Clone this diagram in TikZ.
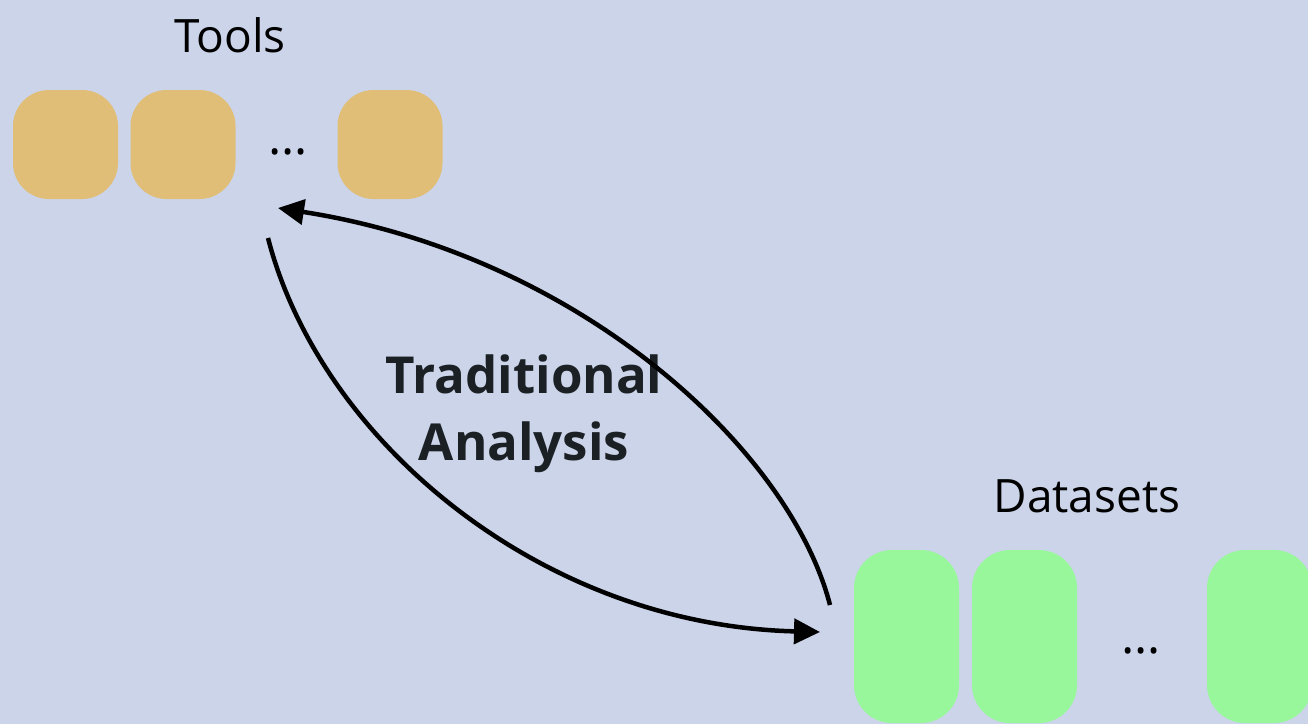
\documentclass[tikz,border=0pt]{standalone}
\usepackage{fontspec}
\setmainfont{Open Sans}
\usetikzlibrary{arrows.meta}
\definecolor{bgc}{HTML}{CBD4E9}
\definecolor{toolc}{HTML}{E1BE78}
\definecolor{datac}{HTML}{98F79B}
\definecolor{txtc}{HTML}{1A2024}
\tikzset{
  x=1pt, y=-1pt,
  toolbox/.style={fill=toolc, rounded corners=36pt, minimum width=105pt, minimum height=109pt, inner sep=0pt},
  databox/.style={fill=datac, rounded corners=38pt, minimum width=105pt, minimum height=173pt, inner sep=0pt},
  title/.style={font=\fontsize{46}{55}\selectfont, text=black, inner sep=0pt},
  dots/.style={font=\fontsize{50}{55}\selectfont, text=black, inner sep=0pt, anchor=base},
  flow/.style={line width=4.5pt, -{Triangle[length=26pt,width=25pt]}},
}
\begin{document}
\begin{tikzpicture}
\useasboundingbox (0,0) rectangle (1308,724);
\fill[bgc] (0,0) rectangle (1308,724);
% Tools
\node[title, anchor=base] (ttitle) at (230,52) {Tools};
\node[toolbox] (t1) at (65.5,144.5) {};
\node[toolbox] (t2) at (183,144.5) {};
\node[dots] (tdots) at (288,154) {…};
\node[toolbox] (t3) at (390,144.5) {};
% Datasets
\node[title, anchor=base] (dtitle) at (1087,512) {Datasets};
\node[databox] (d1) at (906.5,636.5) {};
\node[databox] (d2) at (1024.5,636.5) {};
\node[dots] (ddots) at (1141.5,653) {…};
\node[databox] (d3) at (1259.5,636.5) {};
% label
\node[font=\bfseries\fontsize{51}{67}\selectfont, text=txtc, align=center, inner sep=0pt, anchor=base] (lab) at (524,460) {Traditional\\Analysis};
% arrows
\coordinate (a1s) at (830,605);
\coordinate (a1e) at (278,208);
\coordinate (a2s) at (268,238);
\coordinate (a2e) at (820,632);
\draw[flow] (a1s) .. controls (790,450) and (580,255) .. (a1e);
\draw[flow] (a2s) .. controls (320,440) and (540,625) .. (a2e);
\end{tikzpicture}
\end{document}
